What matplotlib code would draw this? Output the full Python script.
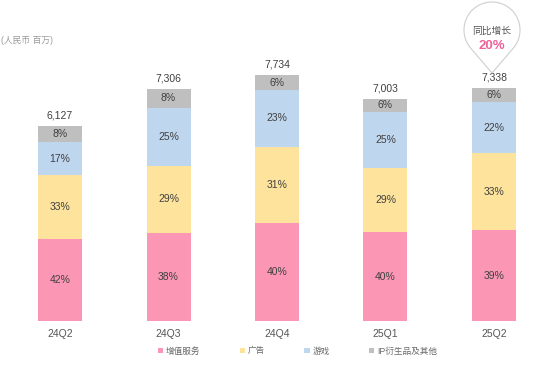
import numpy as np
import matplotlib
matplotlib.use("Agg")
import matplotlib.pyplot as plt

plt.rcParams['font.family'] = ['Liberation Sans', 'Noto Sans CJK SC', 'DejaVu Sans']

quarters = ["24Q2", "24Q3", "24Q4", "25Q1", "25Q2"]
totals = [6127, 7306, 7734, 7003, 7338]
series_names = ["增值服务", "广告", "游戏", "IP衍生品及其他"]
shares = {
    "增值服务": [42, 38, 40, 40, 39],
    "广告": [33, 29, 31, 29, 33],
    "游戏": [17, 25, 23, 25, 22],
    "IP衍生品及其他": [8, 8, 6, 6, 6],
}
colors = ["#FB97B4", "#FDE39C", "#BED6EE", "#BFBFBF"]
unit_label = "(人民币 百万)"
growth_title = "同比增长"
growth_value = "20%"

W, H = 540, 372
fig = plt.figure(figsize=(W / 100, H / 100), dpi=100)
base_px = 321
ax = fig.add_axes([0, 1 - base_px / H, 1, base_px / H])
px_per_unit = 31.5
ax.set_ylim(0, base_px * px_per_unit)
spacing = 108.5
c0 = 60
ax.set_xlim(-c0 / spacing, (W - c0) / spacing)
x = np.arange(len(quarters))
width = 44 / spacing

tot = np.array(totals, dtype=float)
bottom = np.zeros(len(quarters))
handles = []
for name, col in zip(series_names, colors):
    pct = np.array(shares[name], dtype=float)
    vals = tot * pct / 100.0
    b = ax.bar(x, vals, width, bottom=bottom, color=col, label=name, linewidth=0)
    handles.append(b)
    for xi, v, bt, p in zip(x, vals, bottom, pct):
        ax.text(xi, bt + v / 2, f"{int(p)}%", ha="center", va="center",
                fontsize=7.5, color="#404040")
    bottom += vals

for xi, t in zip(x, totals):
    ax.annotate(f"{t:,}", (xi, t), xytext=(0, 4), textcoords="offset points",
                ha="center", va="bottom", fontsize=7.5, color="#404040")

ax.set_xticks(x)
ax.set_xticklabels(quarters, fontsize=7.5, color="#555555")
ax.tick_params(axis="x", length=0, pad=6)
ax.set_yticks([])
for s in ax.spines.values():
    s.set_visible(False)

fig.text(1 / W, 1 - 40 / H, unit_label, fontsize=6.3, color="#9A9A9A",
         ha="left", va="center")

leg = fig.legend(handles=handles, labels=series_names, loc="center left",
                 bbox_to_anchor=(158 / W, 1 - 351 / H), ncol=4, frameon=False,
                 fontsize=6.2, handlelength=0.6, handleheight=0.6,
                 handletextpad=0.3, columnspacing=4.6, borderpad=0,
                 borderaxespad=0, labelcolor="#666666")

# balloon above last bar
ov = fig.add_axes([0, 0, 1, 1])
ov.set_xlim(0, W)
ov.set_ylim(H, 0)
ov.axis("off")
disp = ax.transData.transform((x[-1], 0))
cx = disp[0] * W / fig.bbox.width - 2
cy, r, tip = 30, 28, 73
d = tip - cy
phi = np.arccos(r / d)
a = np.linspace(phi, 2 * np.pi - phi, 200)
px = np.concatenate([cx + r * np.sin(a), [cx]])
py = np.concatenate([cy + r * np.cos(a), [tip]])
ov.fill(px, py, facecolor="white", edgecolor="#CFCFCF", linewidth=0.8, closed=True)
ov.text(cx, 31, growth_title, ha="center", va="center", fontsize=7, color="#555555")
ov.text(cx, 46, growth_value, ha="center", va="center", fontsize=9.5,
        color="#F0609A", fontweight="bold")

fig.savefig("out.png", dpi=100)
